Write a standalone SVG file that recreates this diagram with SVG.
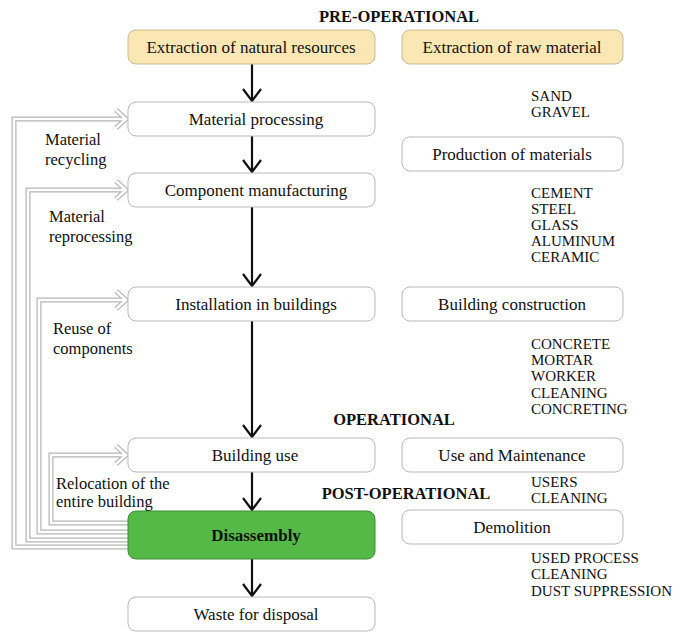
<svg xmlns="http://www.w3.org/2000/svg" width="683" height="632" viewBox="0 0 683 632">
<defs>
<style>
text{font-family:'Liberation Serif','DejaVu Serif',serif;fill:#111}
.box{fill:#fff;stroke:#b8b8b8;stroke-width:1}
.yel{fill:#fbe7b4;stroke:#c9bb94;stroke-width:1}
.grn{fill:#55b947;stroke:#3f8f35;stroke-width:1}
.bt{font-size:17px;text-anchor:middle}
.lst{font-size:15px}
.hd{font-size:16.5px;font-weight:bold;text-anchor:middle}
.lbl{font-size:16.5px}
.arr{fill:none;stroke:#111;stroke-width:2.2}
.fbo{fill:none;stroke:#b4b4b4;stroke-width:5;stroke-linejoin:miter}
.fbi{fill:none;stroke:#fff;stroke-width:2.6;stroke-linejoin:miter}
</style>
</defs>
<rect width="683" height="632" fill="#fff"/>

<g id="headings">
<text class="hd" x="399" y="22">PRE-OPERATIONAL</text>
<text class="hd" x="394" y="425">OPERATIONAL</text>
<text class="hd" x="406" y="499">POST-OPERATIONAL</text>
</g>

<g id="connectors">
<g id="feedback">
<path class="fbo" d="M128,547 H14 V119 H126 M116,110 L126,119 L116,128"/>
<path class="fbo" d="M128,540 H28 V190 H126 M116,181 L126,190 L116,199"/>
<path class="fbo" d="M128,532 H39 V300 H126 M116,291 L126,300 L116,309"/>
<path class="fbo" d="M128,523 H51 V455 H126 M116,446 L126,455 L116,464"/>
<path class="fbi" d="M128,547 H14 V119 H126 M116,110 L126,119 L116,128"/>
<path class="fbi" d="M128,540 H28 V190 H126 M116,181 L126,190 L116,199"/>
<path class="fbi" d="M128,532 H39 V300 H126 M116,291 L126,300 L116,309"/>
<path class="fbi" d="M128,523 H51 V455 H126 M116,446 L126,455 L116,464"/>
</g>
<g id="main-arrows">
<path class="arr" d="M252,64 V101 M243,89 L252,101 L261,89"/>
<path class="arr" d="M252,136 V172 M243,160 L252,172 L261,160"/>
<path class="arr" d="M252,207 V286 M243,274 L252,286 L261,274"/>
<path class="arr" d="M252,321 V437 M243,425 L252,437 L261,425"/>
<path class="arr" d="M252,472 V510 M243,498 L252,510 L261,498"/>
<path class="arr" d="M252,559 V596 M243,584 L252,596 L261,584"/>
</g>
</g>

<g id="n-extraction-natural"><rect class="yel" x="128" y="30" width="247" height="34" rx="8"/><text class="bt" x="251" y="53">Extraction of natural resources</text></g>
<g id="n-material-processing"><rect class="box" x="128" y="102" width="247" height="34" rx="8"/><text class="bt" x="256" y="125">Material processing</text></g>
<g id="n-component-manufacturing"><rect class="box" x="128" y="173" width="247" height="34" rx="8"/><text class="bt" x="256" y="196">Component manufacturing</text></g>
<g id="n-installation"><rect class="box" x="128" y="287" width="247" height="34" rx="8"/><text class="bt" x="256" y="310">Installation in buildings</text></g>
<g id="n-building-use"><rect class="box" x="128" y="438" width="247" height="34" rx="8"/><text class="bt" x="255" y="461">Building use</text></g>
<g id="n-disassembly"><rect class="grn" x="128" y="511" width="247" height="48" rx="8"/><text class="bt" x="256" y="541" font-weight="bold">Disassembly</text></g>
<g id="n-waste"><rect class="box" x="128" y="597" width="247" height="34" rx="8"/><text class="bt" x="256" y="620">Waste for disposal</text></g>

<g id="n-extraction-raw"><rect class="yel" x="402" y="30" width="221" height="34" rx="8"/><text class="bt" x="512" y="53">Extraction of raw material</text></g>
<g id="n-production"><rect class="box" x="402" y="137" width="221" height="34" rx="8"/><text class="bt" x="512" y="160">Production of materials</text></g>
<g id="n-construction"><rect class="box" x="402" y="287" width="221" height="34" rx="8"/><text class="bt" x="512" y="310">Building construction</text></g>
<g id="n-use-maintenance"><rect class="box" x="402" y="438" width="221" height="34" rx="8"/><text class="bt" x="512" y="461">Use and Maintenance</text></g>
<g id="n-demolition"><rect class="box" x="402" y="510" width="221" height="34" rx="8"/><text class="bt" x="512" y="533">Demolition</text></g>

<g id="lists">
<text class="lst" x="531" y="101">SAND</text>
<text class="lst" x="531" y="117">GRAVEL</text>
<text class="lst" x="531" y="198">CEMENT</text>
<text class="lst" x="531" y="214">STEEL</text>
<text class="lst" x="531" y="230">GLASS</text>
<text class="lst" x="531" y="246">ALUMINUM</text>
<text class="lst" x="531" y="262">CERAMIC</text>
<text class="lst" x="531" y="349">CONCRETE</text>
<text class="lst" x="531" y="365">MORTAR</text>
<text class="lst" x="531" y="381">WORKER</text>
<text class="lst" x="531" y="398">CLEANING</text>
<text class="lst" x="531" y="414">CONCRETING</text>
<text class="lst" x="531" y="487">USERS</text>
<text class="lst" x="531" y="503">CLEANING</text>
<text class="lst" x="531" y="563">USED PROCESS</text>
<text class="lst" x="531" y="579">CLEANING</text>
<text class="lst" x="531" y="596">DUST SUPPRESSION</text>
</g>

<g id="loop-labels">
<text class="lbl" x="45" y="145">Material</text>
<text class="lbl" x="45" y="165">recycling</text>
<text class="lbl" x="49" y="222">Material</text>
<text class="lbl" x="49" y="242">reprocessing</text>
<text class="lbl" x="53" y="334">Reuse of</text>
<text class="lbl" x="53" y="354">components</text>
<text class="lbl" x="56" y="489">Relocation of the</text>
<text class="lbl" x="56" y="507">entire building</text>
</g>
</svg>
